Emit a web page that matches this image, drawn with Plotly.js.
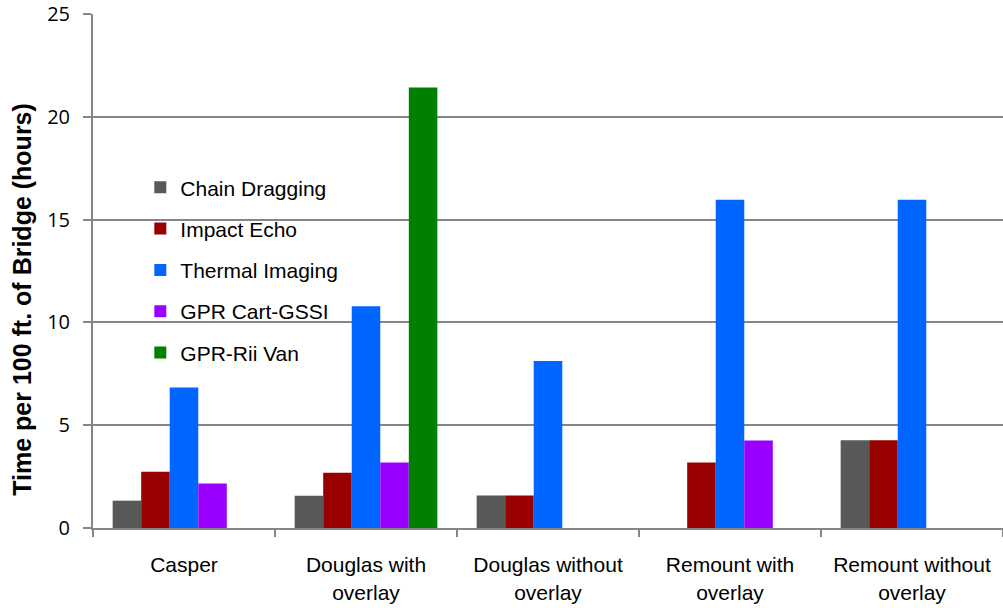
<!DOCTYPE html>
<html>
<head>
<meta charset="utf-8">
<script src="https://cdn.plot.ly/plotly-3.0.1.min.js"></script>
<style>html,body{margin:0;padding:0;background:#fff;}#chart{width:1003px;height:608px;}</style>
</head>
<body>
<div id="chart"></div>
<script>
var categories = ["Casper", "Douglas with<br>overlay", "Douglas without<br>overlay", "Remount with<br>overlay", "Remount without<br>overlay"];
var seriesNames = ["Chain Dragging", "Impact Echo", "Thermal Imaging", "GPR Cart-GSSI", "GPR-Rii Van"];
var chainDragging = [1.33, 1.57, 1.58, null, 4.27];
var impactEcho = [2.74, 2.69, 1.58, 3.18, 4.27];
var thermalImaging = [6.83, 10.78, 8.12, 15.96, 15.96];
var gprCart = [2.16, 3.18, null, 4.26, null];
var gprRii = [null, 21.43, null, null, null];
var colors = ["#595959", "#990000", "#0066FF", "#9900FF", "#008000"];
var yTicks = [0, 5, 10, 15, 20, 25];

var allValues = [chainDragging, impactEcho, thermalImaging, gprCart, gprRii];
var traces = allValues.map(function (vals, i) {
  return {
    type: "bar",
    name: seriesNames[i],
    x: categories,
    y: vals,
    marker: {color: colors[i]},
    legendgroup: "g" + i,
    hoverinfo: "x+y+name"
  };
});

var layout = {
  width: 1003,
  height: 608,
  margin: {l: 93, r: 0, t: 14, b: 80},
  paper_bgcolor: "#ffffff",
  plot_bgcolor: "#ffffff",
  barmode: "group",
  bargap: 0.216,
  bargroupgap: 0,
  font: {family: "Liberation Sans, Arial, sans-serif", size: 21, color: "#000"},
  showlegend: true,
  legend: {
    x: 0.052, y: 0.702, xanchor: "left", yanchor: "top",
    bgcolor: "rgba(0,0,0,0)",
    font: {family: "Liberation Sans, Arial, sans-serif", size: 21, color: "#000"},
    traceorder: "grouped",
    tracegroupgap: 11,
    itemwidth: 30
  },
  xaxis: {
    type: "category",
    showgrid: false,
    showline: true,
    linecolor: "#868686",
    linewidth: 2,
    ticks: "outside",
    tickson: "boundaries",
    ticklen: 7,
    tickwidth: 2,
    tickcolor: "#868686",
    ticklabelstandoff: 17,
    tickfont: {family: "Liberation Sans, Arial, sans-serif", size: 21, color: "#000"},
    zeroline: false
  },
  yaxis: {
    range: [0, 25],
    tickvals: yTicks,
    ticktext: yTicks.map(String),
    showgrid: true,
    gridcolor: "#868686",
    gridwidth: 2,
    showline: true,
    linecolor: "#868686",
    linewidth: 2,
    ticks: "outside",
    ticklen: 8,
    tickwidth: 2,
    tickcolor: "#868686",
    ticklabelstandoff: 9,
    tickfont: {family: "Open Sans, sans-serif", size: 20, color: "#000"},
    zeroline: false
  },
  annotations: [{
    text: "<b>Time per 100 ft. of Bridge (hours)</b>",
    xref: "paper", yref: "paper",
    x: -0.078, y: 0.444,
    xanchor: "center", yanchor: "middle",
    textangle: -90,
    showarrow: false,
    font: {family: "Liberation Sans, Arial, sans-serif", size: 25, color: "#000"}
  }]
};

Plotly.newPlot("chart", traces, layout, {displayModeBar: false, staticPlot: true});
</script>
</body>
</html>
